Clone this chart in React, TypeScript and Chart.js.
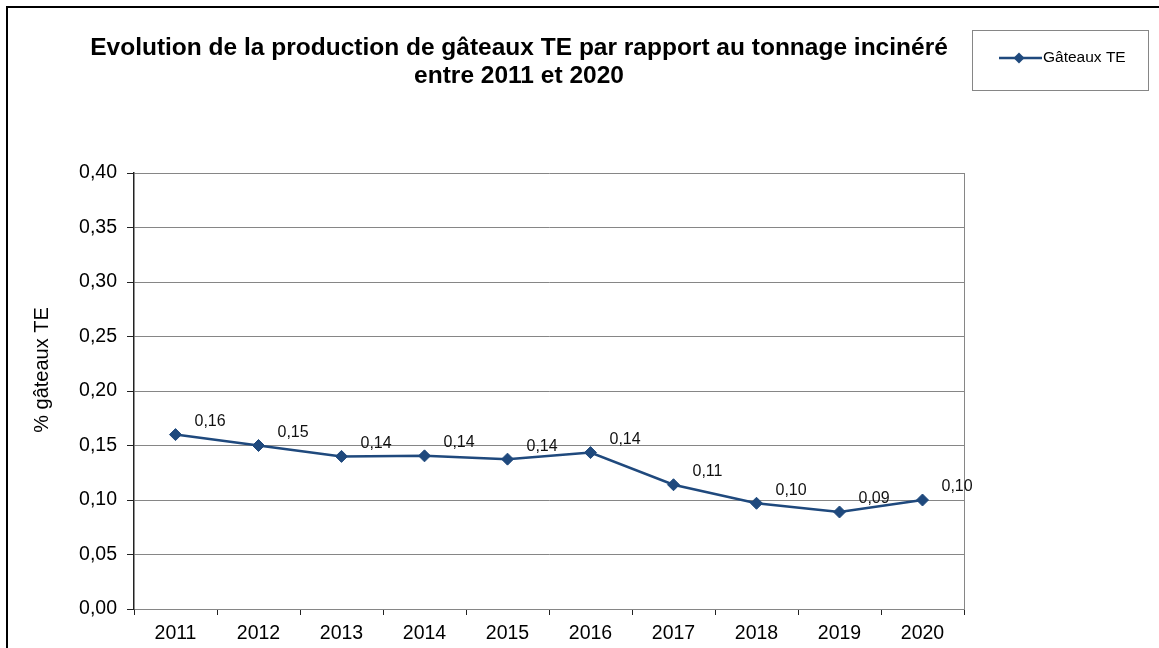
import React, { useEffect, useRef } from "react";
import { Chart, registerables } from "chart.js";

Chart.register(...registerables);

const TITLE_LINES = [
  "Evolution de la production de gâteaux TE par rapport au tonnage incinéré",
  "entre 2011 et 2020",
];
const Y_AXIS_TITLE = "% gâteaux TE";
const SERIES_LABEL = "Gâteaux TE";
const YEARS = ["2011", "2012", "2013", "2014", "2015", "2016", "2017", "2018", "2019", "2020"];
const VALUES = [0.16, 0.15, 0.14, 0.1405, 0.1375, 0.1435, 0.114, 0.097, 0.089, 0.1];
const Y_MIN = 0;
const Y_MAX = 0.4;
const Y_STEP = 0.05;

const FONT = "'Liberation Sans', Arial, sans-serif";
const LINE_COLOR = "#1F497D";
const GRID_COLOR = "#868686";

const fmt = (v: number) => v.toFixed(2).replace(".", ",");

const decorPlugin = {
  id: "decor",
  afterDatasetsDraw(chart: any) {
    const ctx = chart.ctx as CanvasRenderingContext2D;
    const area = chart.chartArea;
    ctx.save();

    // right border of plot area
    ctx.strokeStyle = GRID_COLOR;
    ctx.lineWidth = 1;
    ctx.beginPath();
    ctx.moveTo(Math.round(area.right) + 0.5, area.top);
    ctx.lineTo(Math.round(area.right) + 0.5, area.bottom);
    ctx.stroke();

    // data labels
    const meta = chart.getDatasetMeta(0);
    ctx.fillStyle = "#111";
    ctx.font = `16px ${FONT}`;
    ctx.textAlign = "left";
    ctx.textBaseline = "middle";
    meta.data.forEach((pt: any, i: number) => {
      const v = chart.data.datasets[0].data[i] as number;
      ctx.fillText(fmt(v), pt.x + 19, pt.y - 13);
    });

    // title
    ctx.fillStyle = "#000";
    ctx.font = `bold 24.5px ${FONT}`;
    ctx.textAlign = "center";
    ctx.textBaseline = "middle";
    ctx.fillText(TITLE_LINES[0], 511, 40);
    ctx.fillText(TITLE_LINES[1], 511, 68);

    // y axis title
    ctx.save();
    ctx.translate(34, 362);
    ctx.rotate(-Math.PI / 2);
    ctx.font = `20px ${FONT}`;
    ctx.fillStyle = "#000";
    ctx.textAlign = "center";
    ctx.textBaseline = "middle";
    ctx.fillText(Y_AXIS_TITLE, 0, 0);
    ctx.restore();

    // legend box
    ctx.strokeStyle = GRID_COLOR;
    ctx.lineWidth = 1;
    ctx.strokeRect(964.5, 22.5, 176, 60);
    ctx.strokeStyle = LINE_COLOR;
    ctx.lineWidth = 2.5;
    ctx.beginPath();
    ctx.moveTo(991, 50);
    ctx.lineTo(1034, 50);
    ctx.stroke();
    ctx.fillStyle = LINE_COLOR;
    ctx.beginPath();
    ctx.moveTo(1011, 44.5);
    ctx.lineTo(1016.5, 50);
    ctx.lineTo(1011, 55.5);
    ctx.lineTo(1005.5, 50);
    ctx.closePath();
    ctx.fill();
    ctx.fillStyle = "#000";
    ctx.font = `15.5px ${FONT}`;
    ctx.textAlign = "left";
    ctx.textBaseline = "middle";
    ctx.fillText(chart.data.datasets[0].label, 1035, 50);

    ctx.restore();
  },
};

export default function App() {
  const ref = useRef<HTMLCanvasElement | null>(null);

  useEffect(() => {
    if (!ref.current) return;
    const chart = new Chart(ref.current, {
      type: "line",
      data: {
        labels: YEARS,
        datasets: [
          {
            label: SERIES_LABEL,
            data: VALUES,
            borderColor: LINE_COLOR,
            backgroundColor: LINE_COLOR,
            borderWidth: 2.5,
            pointStyle: "rectRot",
            pointRadius: 6,
            pointBorderWidth: 1,
            pointBackgroundColor: LINE_COLOR,
            pointBorderColor: LINE_COLOR,
            tension: 0,
          },
        ],
      },
      options: {
        responsive: false,
        animation: false,
        layout: { padding: { left: 0, top: 165, right: 195, bottom: 0 } },
        plugins: {
          legend: { display: false },
          title: { display: false },
          tooltip: { enabled: false },
        },
        scales: {
          x: {
            offset: true,
            grid: {
              offset: true,
              drawOnChartArea: false,
              drawTicks: true,
              tickLength: 6,
              color: "#222",
            },
            border: { color: GRID_COLOR, width: 1 },
            ticks: {
              color: "#000",
              font: { family: FONT, size: 19.5 },
              padding: 7,
              maxRotation: 0,
              autoSkip: false,
            },
            afterFit(scale: any) {
              scale.height = 39;
            },
          },
          y: {
            min: Y_MIN,
            max: Y_MAX,
            ticks: {
              stepSize: Y_STEP,
              color: "#000",
              font: { family: FONT, size: 19.5 },
              padding: 10,
              callback: (v: any) => fmt(Number(v)),
            },
            grid: {
              color: GRID_COLOR,
              tickLength: 7,
              tickColor: "#222",
              lineWidth: 1,
            },
            border: { color: "#222", width: 1.5 },
            afterFit(scale: any) {
              scale.width = 126;
            },
          },
        },
      },
      plugins: [decorPlugin],
    });
    return () => chart.destroy();
  }, []);

  return (
    <div
      style={{
        position: "fixed",
        left: 6,
        top: 6,
        width: 1170,
        height: 660,
        borderLeft: "2px solid #000",
        borderTop: "2px solid #000",
        background: "#fff",
      }}
    >
      <canvas ref={ref} width={1151} height={640} style={{ display: "block" }} />
    </div>
  );
}
